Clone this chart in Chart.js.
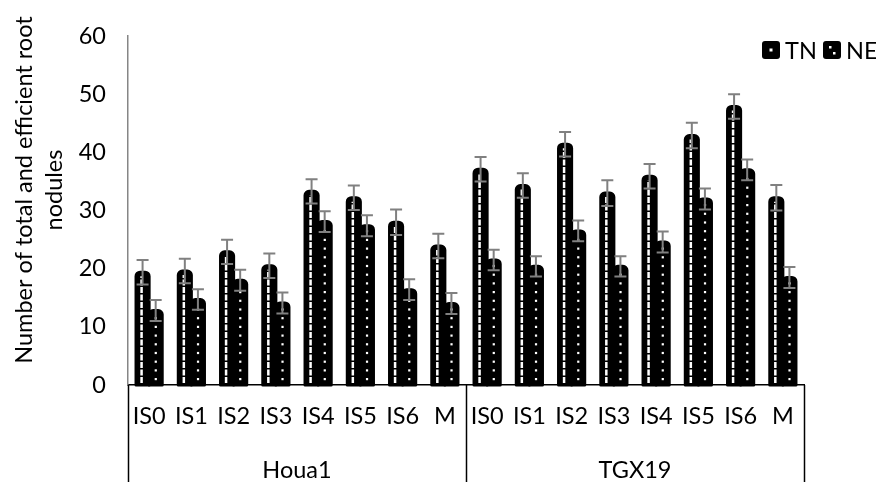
<!DOCTYPE html>
<html lang="en">
<head>
    <meta charset="UTF-8">
    <title>Total and efficient root nodules</title>
    <script src="https://cdn.jsdelivr.net/npm/chart.js"></script>
    <style>
        html, body { margin: 0; padding: 0; background: #ffffff; }
        #wrap { width: 876px; height: 482px; }
    </style>
</head>
<body>
    <div id="wrap"><canvas id="nodChart" width="876" height="482"></canvas></div>

    <script>
        // categories (two varieties, eight treatments each)
        const treatments = ["IS0", "IS1", "IS2", "IS3", "IS4", "IS5", "IS6", "M"];
        const varieties = ["Houa1", "TGX19"];
        const labels = varieties.flatMap(() => treatments);

        // TN = total nodules, NE = efficient nodules
        const tnValues = [19.4, 19.6, 22.9, 20.5, 33.3, 32.2, 28.0, 23.9,
                          37.1, 34.3, 41.4, 33.0, 35.9, 42.9, 47.9, 32.2];
        const neValues = [12.8, 14.7, 18.0, 14.1, 28.1, 27.4, 16.4, 14.0,
                          21.5, 20.4, 26.5, 20.4, 24.6, 32.0, 37.0, 18.5];
        const tnErr = [2.1, 2.1, 2.1, 2.1, 2.1, 2.1, 2.2, 2.1,
                       2.1, 2.1, 2.1, 2.2, 2.1, 2.2, 2.1, 2.2];
        const neErr = [1.8, 1.75, 1.8, 1.8, 1.8, 1.8, 1.8, 1.8,
                       1.75, 1.75, 1.8, 1.75, 1.8, 1.8, 1.8, 1.8];

        const yTicks = [0, 10, 20, 30, 40, 50, 60];
        const yTitle = ["Number of total and efficient root", "nodules"];
        const seriesNames = ["TN", "NE"];

        const FONT = "Lato, 'Open Sans', sans-serif";
        const FSIZE = 23.5;

        // thick outline, white stripe / dots inside each bar, then grey error bars
        const barDecor = {
            id: "barDecor",
            afterDatasetsDraw(chart) {
                const ctx = chart.ctx;
                const errs = [tnErr, neErr];
                const yScale = chart.scales.y;
                ctx.save();
                chart.data.datasets.forEach((ds, di) => {
                    const meta = chart.getDatasetMeta(di);
                    meta.data.forEach((bar, i) => {
                        const w = bar.width;
                        ctx.strokeStyle = "#000000";
                        ctx.lineWidth = 3;
                        ctx.lineJoin = "round";
                        ctx.beginPath();
                        ctx.roundRect(bar.x - w / 2, bar.y, w, bar.base - bar.y, [4, 4, 0, 0]);
                        ctx.stroke();
                        ctx.fill();

                        const top = bar.y + 4;
                        const bottom = bar.base - 2;
                        if (di === 0) {
                            ctx.strokeStyle = "#ffffff";
                            ctx.lineWidth = 2.5;
                            ctx.setLineDash([6, 1.5]);
                            ctx.beginPath();
                            ctx.moveTo(bar.x - 1, bottom);
                            ctx.lineTo(bar.x - 1, top);
                            ctx.stroke();
                            ctx.setLineDash([]);
                        } else {
                            ctx.fillStyle = "#ffffff";
                            for (let y = bottom - 4; y > top; y -= 8.7) {
                                ctx.fillRect(bar.x - 1, y - 1, 2.2, 2.2);
                            }
                            ctx.fillStyle = "#000000";
                        }
                    });
                });
                // error bars
                ctx.strokeStyle = "#808080";
                ctx.lineWidth = 2;
                chart.data.datasets.forEach((ds, di) => {
                    const meta = chart.getDatasetMeta(di);
                    meta.data.forEach((bar, i) => {
                        const v = ds.data[i];
                        const yHi = yScale.getPixelForValue(v + errs[di][i]);
                        const yLo = yScale.getPixelForValue(v - errs[di][i]);
                        const x = bar.x;
                        ctx.beginPath();
                        ctx.moveTo(x, yHi); ctx.lineTo(x, yLo);
                        ctx.moveTo(x - 6, yHi); ctx.lineTo(x + 6, yHi);
                        ctx.moveTo(x - 6, yLo); ctx.lineTo(x + 6, yLo);
                        ctx.stroke();
                    });
                });
                ctx.restore();
            },
            afterDraw(chart) {
                const ctx = chart.ctx;
                const area = chart.chartArea;
                const per = treatments.length;
                ctx.save();

                // group separators + group labels
                ctx.strokeStyle = "#000000";
                ctx.lineWidth = 1.5;
                const step = (area.right - area.left) / labels.length;
                for (let g = 0; g <= varieties.length; g++) {
                    const x = Math.round(area.left + g * per * step) + 0.5;
                    ctx.beginPath();
                    ctx.moveTo(x, area.bottom);
                    ctx.lineTo(x, chart.height);
                    ctx.stroke();
                }
                ctx.fillStyle = "#000000";
                ctx.font = FSIZE + "px " + FONT;
                ctx.textAlign = "center";
                ctx.textBaseline = "middle";
                varieties.forEach((v, g) => {
                    const cx = area.left + (g * per + per / 2) * step;
                    ctx.fillText(v, cx, 470);
                });

                // y axis title (two lines, rotated)
                ctx.save();
                ctx.translate(39, 190);
                ctx.rotate(-Math.PI / 2);
                ctx.font = FSIZE + "px " + FONT;
                ctx.fillText(yTitle[0], 0, -15);
                ctx.fillText(yTitle[1], 0, 15);
                ctx.restore();

                // legend
                ctx.font = FSIZE + "px " + FONT;
                ctx.textAlign = "left";
                const legendX = [762, 823];
                seriesNames.forEach((name, i) => {
                    const bx = legendX[i];
                    const by = 41;
                    ctx.fillStyle = "#000000";
                    ctx.beginPath();
                    ctx.roundRect(bx, by, 18, 18, 3);
                    ctx.fill();
                    ctx.fillStyle = "#ffffff";
                    if (i === 0) {
                        ctx.fillRect(bx + 7.5, by + 7.5, 3, 3);
                    } else {
                        ctx.fillRect(bx + 6, by + 5, 2.5, 2.5);
                        ctx.fillRect(bx + 10, by + 11, 2.5, 2.5);
                    }
                    ctx.fillStyle = "#000000";
                    ctx.fillText(name, bx + 23, by + 10);
                });
                ctx.restore();
            }
        };

        const ctx = document.getElementById("nodChart").getContext("2d");
        const chart = new Chart(ctx, {
            type: "bar",
            data: {
                labels: labels,
                datasets: [
                    {
                        label: seriesNames[0],
                        data: tnValues,
                        backgroundColor: "#000000",
                        borderRadius: 4,
                        borderSkipped: "bottom",
                        categoryPercentage: 0.62,
                        barPercentage: 1.0
                    },
                    {
                        label: seriesNames[1],
                        data: neValues,
                        backgroundColor: "#000000",
                        borderRadius: 4,
                        borderSkipped: "bottom",
                        categoryPercentage: 0.62,
                        barPercentage: 1.0
                    }
                ]
            },
            options: {
                responsive: false,
                animation: false,
                layout: { padding: { left: 0, right: 72, top: 23, bottom: 0 } },
                plugins: {
                    legend: { display: false },
                    tooltip: { enabled: false }
                },
                scales: {
                    x: {
                        grid: { display: false, drawTicks: false },
                        border: { display: true, color: "#000000", width: 1.5 },
                        ticks: {
                            color: "#000000",
                            font: { family: FONT, size: FSIZE },
                            padding: 17,
                            maxRotation: 0,
                            autoSkip: false
                        },
                        afterFit(scale) { scale.height = 97; }
                    },
                    y: {
                        min: 0,
                        max: 60,
                        grid: { display: false, drawTicks: false },
                        border: { display: true, color: "#868686", width: 1.5 },
                        afterBuildTicks(scale) {
                            scale.ticks = yTicks.map(v => ({ value: v }));
                        },
                        ticks: {
                            color: "#000000",
                            font: { family: FONT, size: FSIZE },
                            padding: 22
                        },
                        afterFit(scale) { scale.width = 128; }
                    }
                }
            },
            plugins: [barDecor]
        });
    </script>
</body>
</html>
